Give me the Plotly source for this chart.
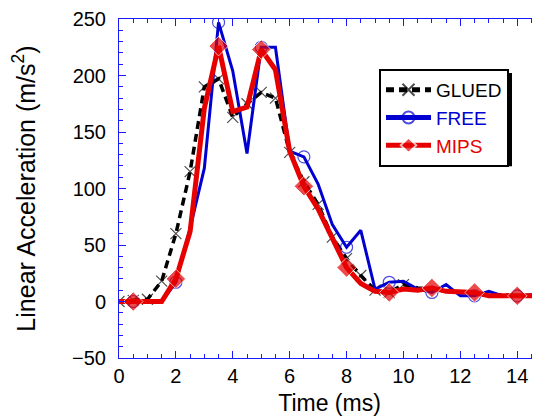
import plotly.graph_objects as go

# time axis (ms), samples every 0.5 ms
time_ms = [0, 0.5, 1, 1.5, 2, 2.5, 3, 3.5, 4, 4.5, 5, 5.5, 6, 6.5, 7, 7.5, 8, 8.5, 9, 9.5,
           10, 10.5, 11, 11.5, 12, 12.5, 13, 13.5, 14, 14.5, 15]

glued = [0, 1, 2, 18, 60, 115, 190, 197, 163, 175, 185, 180, 132, 106, 86, 57, 38, 23, 10, 8,
         15, 12, 11, 9, 8, 7, 6, 6, 5, 5, 5]
free = [0, 0, 0, 0, 17, 65, 118, 247, 204, 131, 225, 225, 133, 128, 104, 68, 48, 63, 11, 17,
        18, 11, 8, 15, 5, 5, 9, 5, 5, 6, 6]
mips = [0, 0, 0, 0, 20, 62, 171, 226, 168, 172, 223, 205, 133, 102, 82, 56, 30, 16, 9, 8,
        11, 10, 12, 9, 8, 8, 5, 5, 5, 5, 5]

# which samples carry a symbol
glued_marked = [i <= 20 for i in range(len(time_ms))]
other_marked = [i % 3 == 1 for i in range(len(time_ms))]

AXIS_BLUE = "#1a1aff"
FREE_BLUE = "#0000d0"
MIPS_RED = "#e60000"

fig = go.Figure()

fig.add_trace(go.Scatter(
    x=time_ms, y=glued, mode="lines+markers",
    name="GLUED",
    line=dict(color="black", width=3.5, dash="8px,5px"),
    marker=dict(symbol="x-thin-open", size=[11 if m else 0 for m in glued_marked],
                color="black", line=dict(color="black", width=1.2)),
))
fig.add_trace(go.Scatter(
    x=time_ms, y=free, mode="lines+markers",
    name="<span style='color:#0000d0'>FREE</span>",
    line=dict(color=FREE_BLUE, width=3),
    marker=dict(symbol="circle-open", size=[12 if m else 0 for m in other_marked],
                color=FREE_BLUE, line=dict(color=FREE_BLUE, width=1.2)),
))
fig.add_trace(go.Scatter(
    x=time_ms, y=mips, mode="lines+markers",
    name="<span style='color:#e60000'>MIPS</span>",
    line=dict(color=MIPS_RED, width=5),
    marker=dict(symbol="diamond", size=[15 if m else 0 for m in other_marked],
                color=MIPS_RED),
))

# legend drop shadow
fig.add_shape(type="rect", xref="paper", yref="paper",
              x0=0.632, x1=0.9335, y0=0.566, y1=0.841,
              fillcolor="black", line=dict(width=0), layer="below")

# the page adds an 8px body margin, so the figure is 8px smaller than the window
fig.update_layout(
    width=532, height=411,
    margin=dict(l=111, r=0, t=11, b=61),
    paper_bgcolor="white", plot_bgcolor="white",
    font=dict(family="Liberation Sans, Arial, sans-serif", size=20, color="black"),
    showlegend=True,
    legend=dict(x=0.6176, y=0.8526, xanchor="left", yanchor="top",
                bgcolor="white", bordercolor="black", borderwidth=2,
                font=dict(size=19), itemsizing="constant", tracegroupgap=0,
                itemwidth=45),
    xaxis=dict(
        range=[0, 14.8], dtick=2, tick0=0, automargin=False,
        showline=True, linecolor=AXIS_BLUE, linewidth=1, mirror="ticks",
        ticks="inside", ticklen=7, tickcolor=AXIS_BLUE,
        minor=dict(dtick=0.5, ticks="inside", ticklen=4, tickcolor=AXIS_BLUE),
        showgrid=False, zeroline=False, tickfont=dict(size=20),
        title=dict(text="Time (ms)", font=dict(size=23), standoff=8),
    ),
    yaxis=dict(
        range=[-50, 250], dtick=50, automargin=False,
        showline=True, linecolor=AXIS_BLUE, linewidth=1,
        ticks="inside", ticklen=7, tickcolor=AXIS_BLUE,
        minor=dict(dtick=10, ticks="inside", ticklen=4, tickcolor=AXIS_BLUE),
        showgrid=False, zeroline=False, ticklabelstandoff=8, tickfont=dict(size=20),
        title=dict(text="Linear Acceleration (m/s<sup>2</sup>)", font=dict(size=25), standoff=30),
    ),
)

fig.write_html("out.html")
